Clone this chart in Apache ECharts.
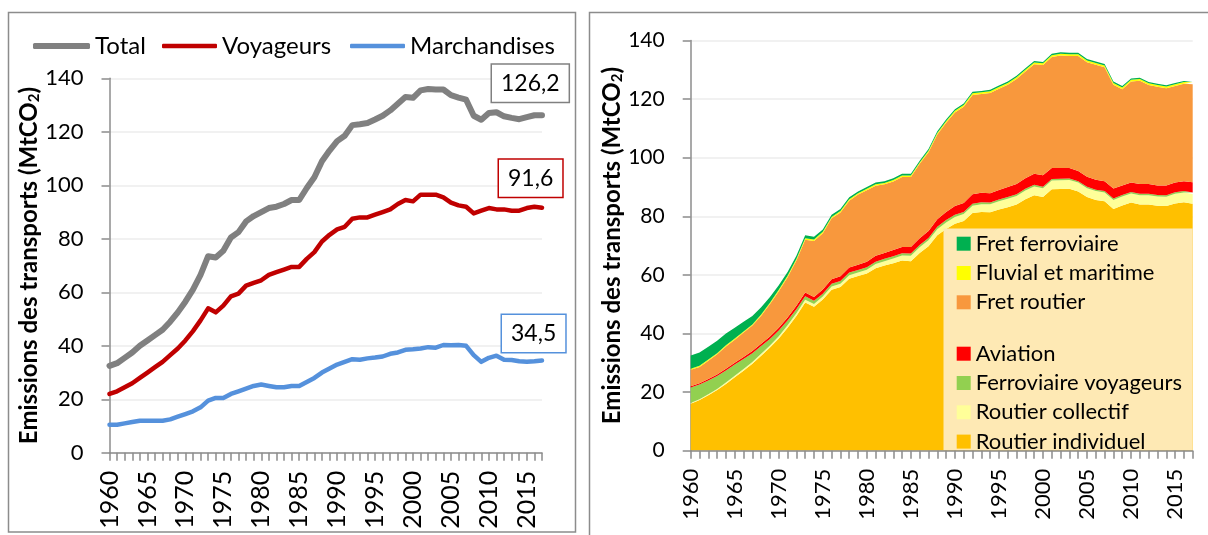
<!DOCTYPE html>
<html>
<head>
<meta charset="utf-8">
<script src="https://cdn.jsdelivr.net/npm/echarts@6/dist/echarts.min.js"></script>
<style>
  html, body { margin: 0; padding: 0; background: #fff; }
  #chart { width: 1208px; height: 535px; }
</style>
</head>
<body>
<div id="chart"></div>
<script>
// annees
const years = ['1960','1961','1962','1963','1964','1965','1966','1967','1968','1969',
  '1970','1971','1972','1973','1974','1975','1976','1977','1978','1979',
  '1980','1981','1982','1983','1984','1985','1986','1987','1988','1989',
  '1990','1991','1992','1993','1994','1995','1996','1997','1998','1999',
  '2000','2001','2002','2003','2004','2005','2006','2007','2008','2009',
  '2010','2011','2012','2013','2014','2015','2016','2017']

// graphique de gauche (MtCO2)
const total = [32.5,33.5,35.5,37.5,40,42,44,46,49,52.5,
  56.5,61,66.5,73.5,73,75.5,80.5,82.5,86.5,88.5,
  90,91.5,92,93,94.5,94.5,99,103,109,113,
  116.5,118.5,122.5,122.8,123.3,124.6,126,128,130.5,133,
  132.7,135.5,136,135.8,135.8,133.7,132.8,132,126,124.5,
  127,127.3,125.8,125.2,124.7,125.5,126.2,126.2]
const voyageurs = [22,23,24.5,26,28,30,32,34,36.5,39,
  42,45.5,49.5,54,52.5,55,58.5,59.5,62.5,63.5,
  64.5,66.5,67.5,68.5,69.5,69.5,72.5,75,79,81.5,
  83.5,84.5,87.5,88,88,89,90,91,93,94.5,
  94,96.5,96.5,96.5,95.5,93.5,92.5,92,89.5,90.5,
  91.5,91,91,90.5,90.5,91.5,92,91.6]
const marchandises = [10.5,10.5,11,11.5,12,12,12,12,12.5,13.5,
  14.5,15.5,17,19.5,20.5,20.5,22,23,24,25,
  25.5,25,24.5,24.5,25,25,26.5,28,30,31.5,
  33,34,35,34.8,35.3,35.6,36,37,37.5,38.5,
  38.7,39,39.5,39.3,40.3,40.2,40.3,40,36.5,34,
  35.5,36.3,34.8,34.7,34.2,34,34.2,34.5]
const lastValues = ['126,2', '91,6', '34,5']

// graphique de droite, par mode (MtCO2)
const routierIndividuel = [16.0,17.3,18.9,20.7,22.8,25.1,27.3,29.7,32.4,35.2,
  38.3,42.0,46.0,50.6,49.1,51.6,54.9,55.9,58.7,59.6,
  60.5,62.3,63.2,64.0,64.9,64.7,67.5,69.8,73.5,75.7,
  77.5,78.4,81.1,81.5,81.4,82.3,83.1,84.0,85.8,87.2,
  86.6,89.2,89.3,89.4,88.5,86.6,85.6,85.1,82.5,83.7,
  84.7,84.0,84.0,83.6,83.5,84.4,84.8,84.3]
const routierCollectif = [0.3,0.3,0.4,0.4,0.5,0.5,0.6,0.6,0.7,0.7,
  0.8,0.8,0.9,0.9,1.0,1.0,1.1,1.1,1.2,1.2,
  1.3,1.4,1.5,1.6,1.7,1.8,1.9,2.0,2.1,2.2,
  2.3,2.4,2.5,2.6,2.7,2.8,2.9,2.9,3.0,3.0,
  3.0,3.0,3.0,3.0,3.0,3.0,3.0,3.0,3.1,3.1,
  3.1,3.2,3.2,3.2,3.2,3.3,3.3,3.3]
const ferroviaireVoyageurs = [5.3,5.0,4.7,4.4,4.1,3.8,3.4,3.0,2.6,2.2,
  1.9,1.6,1.4,1.2,1.1,1.0,1.0,0.9,0.9,0.9,
  0.8,0.8,0.8,0.8,0.8,0.8,0.8,0.8,0.8,0.8,
  0.7,0.7,0.7,0.7,0.6,0.6,0.6,0.6,0.6,0.6,
  0.5,0.5,0.5,0.5,0.5,0.5,0.5,0.5,0.5,0.5,
  0.5,0.5,0.5,0.5,0.5,0.5,0.5,0.5]
const aviation = [0.4,0.4,0.5,0.5,0.6,0.6,0.7,0.7,0.8,0.9,
  1.0,1.1,1.2,1.3,1.3,1.4,1.5,1.6,1.7,1.8,
  1.9,2.0,2.0,2.1,2.1,2.2,2.3,2.4,2.6,2.8,
  3.0,3.0,3.2,3.2,3.2,3.3,3.4,3.5,3.6,3.7,
  3.9,3.8,3.7,3.6,3.5,3.4,3.4,3.4,3.4,3.2,
  3.2,3.3,3.3,3.2,3.3,3.3,3.4,3.5]
const fretRoutier = [5.6,5.6,6.2,6.9,7.6,7.9,8.3,8.7,9.6,11.1,
  12.4,13.7,15.4,18.0,19.1,19.2,20.8,21.8,22.8,23.9,
  24.4,23.9,23.4,23.4,23.9,23.9,25.4,26.9,28.9,30.4,
  31.9,32.9,33.9,33.7,34.2,34.5,34.9,35.9,36.4,37.4,
  37.6,37.9,38.4,38.2,39.2,39.1,39.2,38.9,35.4,32.9,
  34.5,35.3,33.8,33.7,33.2,33.0,33.2,33.5]
const fluvialMaritime = [0.4,0.4,0.4,0.4,0.4,0.4,0.4,0.4,0.4,0.4,
  0.5,0.5,0.5,0.5,0.5,0.5,0.5,0.5,0.5,0.5,
  0.5,0.5,0.5,0.5,0.5,0.5,0.5,0.5,0.5,0.5,
  0.6,0.6,0.6,0.6,0.6,0.6,0.6,0.6,0.6,0.6,
  0.6,0.6,0.6,0.6,0.6,0.6,0.6,0.6,0.6,0.6,
  0.6,0.6,0.6,0.6,0.6,0.6,0.6,0.6]
const fretFerroviaire = [4.5,4.5,4.4,4.2,4.0,3.7,3.3,2.9,2.5,2.0,
  1.6,1.3,1.1,1.0,0.9,0.8,0.7,0.7,0.7,0.6,
  0.6,0.6,0.6,0.6,0.6,0.6,0.6,0.6,0.6,0.6,
  0.5,0.5,0.5,0.5,0.5,0.5,0.5,0.5,0.5,0.5,
  0.5,0.5,0.5,0.5,0.5,0.5,0.5,0.5,0.5,0.5,
  0.4,0.4,0.4,0.4,0.4,0.4,0.4,0.4]

const FONT = 'Lato'
const GREY = '#8c8c8c'

function yAxis(grid, gap, size) {
  return {
    gridIndex: grid, type: 'value', min: 0, max: 140, interval: 20,
    name: '{t|Emissions des transports (MtCO}{s|2}{t|)}',
    nameLocation: 'middle', nameGap: gap, nameRotate: 90,
    nameTextStyle: {
      rich: {
        t: { fontFamily: FONT, fontWeight: 'bold', fontSize: 24, color: '#000' },
        s: { fontFamily: FONT, fontWeight: 'bold', fontSize: 15, color: '#000', padding: [9, 0, 0, 0] }
      }
    },
    axisLine: { show: true, lineStyle: { color: GREY, width: 1.5 } },
    axisTick: { show: true, length: 8, lineStyle: { color: GREY, width: 1.5 } },
    axisLabel: { fontFamily: FONT, fontSize: size, color: '#000', margin: 26 },
    splitLine: { lineStyle: { color: '#ededed', width: 1.5 } }
  }
}

function xAxis(grid, size) {
  return {
    gridIndex: grid, type: 'category', data: years, boundaryGap: false, z: 5,
    axisLine: { lineStyle: { color: GREY, width: 1.5 } },
    axisTick: { show: true, interval: 0, length: 8, lineStyle: { color: GREY, width: 1.5 } },
    axisLabel: { interval: 4, rotate: 90, fontFamily: FONT, fontSize: size, color: '#000', margin: 18 }
  }
}

// courbe + etiquette encadree au bout
function lineSeries(name, data, color, width, box, offset) {
  return {
    name: name, type: 'line', xAxisIndex: 0, yAxisIndex: 0, data: data,
    symbol: 'none', color: color, z: width > 5 ? 2 : 3,
    lineStyle: { color: color, width: width, cap: 'round', join: 'round' },
    endLabel: {
      show: true, formatter: box, distance: 0, offset: offset,
      fontFamily: FONT, fontSize: 23, color: '#000',
      backgroundColor: '#fff', borderColor: color, borderWidth: 1.5,
      padding: [8, 9, 6, 9]
    }
  }
}

function areaSeries(name, data, color) {
  return {
    name: name, type: 'line', xAxisIndex: 1, yAxisIndex: 1, stack: 'modes', data: data,
    symbol: 'none', color: color,
    lineStyle: { width: 0 },
    areaStyle: { color: color, opacity: 1 }
  }
}

function lineLegend(name, left, w, h) {
  return {
    left: left, top: 34, padding: 0, icon: 'roundRect',
    itemWidth: w, itemHeight: h, itemGap: 0,
    textStyle: { fontFamily: FONT, fontSize: 24, color: '#000' },
    data: [name]
  }
}

function boxLegend(top, names) {
  return {
    orient: 'vertical', left: 956.7, top: top, padding: 0, z: 60,
    icon: 'rect', itemWidth: 14, itemHeight: 14, itemGap: 7.3,
    textStyle: { fontFamily: FONT, fontSize: 22, lineHeight: 20, color: '#000' },
    data: names
  }
}

const chart = echarts.init(document.getElementById('chart'))

chart.setOption({
  animation: false,
  textStyle: { fontFamily: FONT },
  grid: [
    { left: 109.5, right: 666, top: 78.3, bottom: 82.2 },
    { left: 690.7, right: 15.3, top: 40.5, bottom: 84.3 }
  ],
  xAxis: [xAxis(0, 25), xAxis(1, 22)],
  yAxis: [yAxis(0, 64, 22), yAxis(1, 64, 21)],
  legend: [
    lineLegend('Total', 33, 57, 6),
    lineLegend('Voyageurs', 162, 55, 4.5),
    lineLegend('Marchandises', 350, 55, 4.5),
    boxLegend(232.7, ['Fret ferroviaire', 'Fluvial et maritime', 'Fret routier']),
    boxLegend(342.7, ['Aviation', 'Ferroviaire voyageurs', 'Routier collectif', 'Routier individuel'])
  ],
  graphic: [
    { type: 'rect', z: 0, shape: { x: 8.5, y: 12.5, width: 567, height: 519.5 },
      style: { fill: 'none', stroke: GREY, lineWidth: 1.5 } },
    { type: 'rect', z: 0, shape: { x: 589.5, y: 12.5, width: 640, height: 560 },
      style: { fill: 'none', stroke: GREY, lineWidth: 1.5 } },
    { type: 'rect', z: 50, shape: { x: 943.5, y: 228.5, width: 249.2, height: 221.5 },
      style: { fill: '#fee9b4' } }
  ],
  series: [
    lineSeries('Total', total, '#808080', 6, lastValues[0], [-50, -32]),
    lineSeries('Voyageurs', voyageurs, '#c00000', 4.5, lastValues[1], [-43, -29.5]),
    lineSeries('Marchandises', marchandises, '#5591dc', 4.5, lastValues[2], [-40, -27]),
    areaSeries('Routier individuel', routierIndividuel, '#ffc000'),
    areaSeries('Routier collectif', routierCollectif, '#ffff99'),
    areaSeries('Ferroviaire voyageurs', ferroviaireVoyageurs, '#92d050'),
    areaSeries('Aviation', aviation, '#ff0000'),
    areaSeries('Fret routier', fretRoutier, '#f8983d'),
    areaSeries('Fluvial et maritime', fluvialMaritime, '#ffff00'),
    areaSeries('Fret ferroviaire', fretFerroviaire, '#00b050')
  ]
})
</script>
</body>
</html>
